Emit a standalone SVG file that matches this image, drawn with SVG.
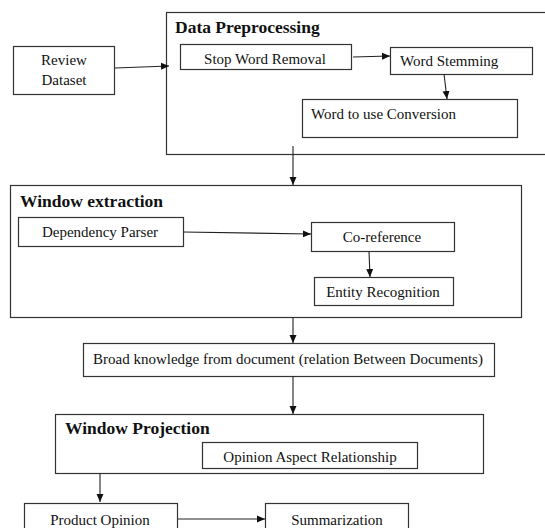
<svg xmlns="http://www.w3.org/2000/svg" width="545" height="528" viewBox="0 0 545 528">
<style>
.b{fill:#fff;stroke:#333;stroke-width:1.2}
.t{font-family:"Liberation Serif","Times New Roman",serif;font-size:15px;fill:#111}
.h{font-family:"Liberation Serif","Times New Roman",serif;font-size:17.5px;font-weight:bold;fill:#111}
.c{stroke:#222;stroke-width:1.1;fill:none;marker-end:url(#a)}
</style>
<defs>
<marker id="a" viewBox="0 0 8 8" refX="8" refY="4" markerWidth="8" markerHeight="8" markerUnits="userSpaceOnUse" orient="auto">
<path d="M0,0.5 L8,4 L0,7.5 Z" fill="#111"/>
</marker>
</defs>
<rect width="545" height="528" fill="#fff"/>
<g id="review"><rect class="b" x="13.5" y="46.5" width="101" height="48"/><text class="t" x="64" y="65" text-anchor="middle">Review</text><text class="t" x="64" y="85" text-anchor="middle">Dataset</text></g>
<g id="preprocessing"><rect class="b" x="166.5" y="12.5" width="390" height="142"/><text class="h" x="175" y="33">Data Preprocessing</text></g>
<g id="stopword"><rect class="b" x="180.5" y="44.5" width="171" height="25"/><text class="t" x="265" y="64" text-anchor="middle">Stop Word Removal</text></g>
<g id="stemming"><rect class="b" x="390.5" y="47.5" width="142" height="27"/><text class="t" x="400" y="66">Word Stemming</text></g>
<g id="conversion"><rect class="b" x="302.5" y="99.5" width="215" height="38"/><text class="t" x="311" y="119">Word to use Conversion</text></g>
<g id="extraction"><rect class="b" x="10.5" y="185.5" width="511" height="132"/><text class="h" x="20" y="207">Window extraction</text></g>
<g id="parser"><rect class="b" x="18.5" y="217.5" width="165" height="29"/><text class="t" x="100" y="237" text-anchor="middle">Dependency Parser</text></g>
<g id="coref"><rect class="b" x="311.5" y="222.5" width="143" height="29"/><text class="t" x="382" y="242" text-anchor="middle">Co-reference</text></g>
<g id="entity"><rect class="b" x="314.5" y="277.5" width="139" height="28"/><text class="t" x="383" y="297" text-anchor="middle">Entity Recognition</text></g>
<g id="broad"><rect class="b" x="83.5" y="343.5" width="411" height="33"/><text class="t" x="93" y="364">Broad knowledge from document (relation Between Documents)</text></g>
<g id="projection"><rect class="b" x="55.5" y="414.5" width="428" height="59"/><text class="h" x="65" y="434">Window Projection</text></g>
<g id="aspect"><rect class="b" x="202.5" y="442.5" width="215" height="26"/><text class="t" x="310" y="462" text-anchor="middle">Opinion Aspect Relationship</text></g>
<g id="product"><rect class="b" x="24.5" y="503.5" width="153" height="40"/><text class="t" x="100" y="525" text-anchor="middle">Product Opinion</text></g>
<g id="summ"><rect class="b" x="265.5" y="503.5" width="143" height="40"/><text class="t" x="337" y="525" text-anchor="middle">Summarization</text></g>
<g id="connectors">
<path class="c" d="M115,68 L169,66"/>
<path class="c" d="M353,57 L390,56"/>
<path class="c" d="M444,74 L447,99"/>
<path class="c" d="M293,146 L293,185"/>
<path class="c" d="M183,232 L311,234"/>
<path class="c" d="M369,251 L370,277"/>
<path class="c" d="M293,317 L293,343"/>
<path class="c" d="M293,376 L293,414"/>
<path class="c" d="M100,473 L100,502"/>
<path class="c" d="M178,519 L265,519"/>
</g>
</svg>
